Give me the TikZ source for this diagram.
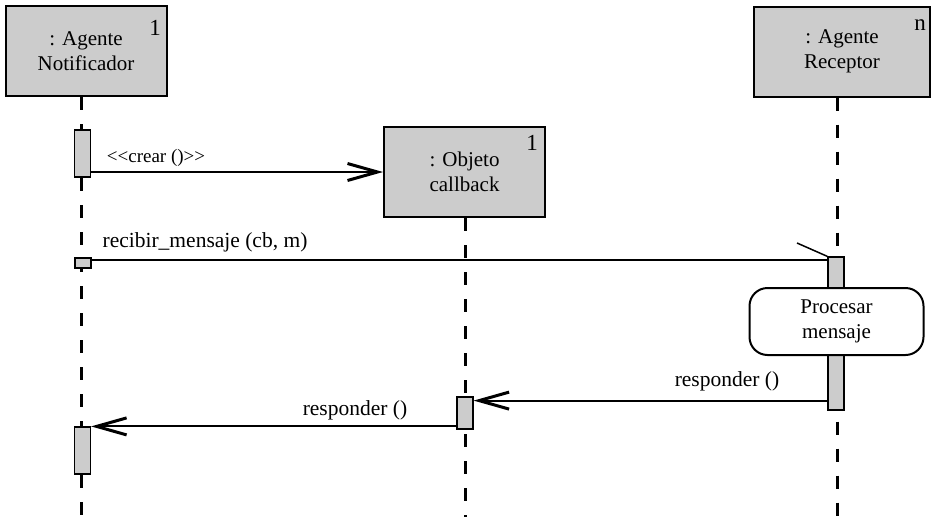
\documentclass[tikz,border=0pt]{standalone}
\usepackage{fontspec}
\setmainfont[Ligatures=NoCommon]{Liberation Serif}
\usetikzlibrary{arrows.meta,calc}
\definecolor{boxgray}{HTML}{CCCCCC}
\tikzset{
  objbox/.style={draw, line width=2pt, fill=boxgray, minimum width=161pt, minimum height=90pt, align=center, inner sep=0pt, font=\fontsize{21}{25}\selectfont},
  actbox/.style={draw, line width=1.2pt, fill=boxgray, minimum width=16pt, inner sep=0pt},
  lifeline/.style={line width=3pt, dash pattern=on 13pt off 14pt},
  msg/.style={line width=2pt, -{Straight Barb[length=30pt,width=17pt,line width=3pt]}},
  lbl/.style={font=\fontsize{21.5}{24}\selectfont, inner sep=0pt},
  mult/.style={font=\fontsize{23}{24}\selectfont, inner sep=0pt}
}
\begin{document}
\begin{tikzpicture}[x=1pt,y=-1pt]
\useasboundingbox (0,0) rectangle (931,517);
% objects
\node[objbox] (notif) at (86,51) {: Agente\\Notificador};
\node[objbox] (obj) at (464.5,172) {: Objeto\\callback};
\node[objbox, minimum width=176pt] (recep) at (842,51.5) {: Agente\\Receptor};
\node[mult] (m1) at (155,28) {1};
\node[mult] (m2) at (532,143) {1};
\node[mult] (m3) at (920,25) {n};
% lifeline ends
\coordinate (ln) at (81,517);
\coordinate (lo) at (465,517);
\coordinate (lr) at (837,517);
\draw[lifeline] (notif.south -| ln) -- (ln);
\draw[lifeline] (obj.south -| lo) -- (lo);
\draw[lifeline] (recep.south -| lr) -- (lr);
% activations
\node[actbox, minimum height=47pt] (a1) at (82.5,153.5) {};
\node[actbox, minimum height=10pt] (a2) at (83,263) {};
\node[actbox, minimum height=153pt] (ar) at (836,333.5) {};
\node[actbox, minimum height=32pt] (ao) at (465,413) {};
\node[actbox, minimum height=47pt] (a3) at (82.5,450.5) {};
% process box
\node[draw, line width=2pt, fill=white, rounded corners=18pt, minimum width=174pt, minimum height=67pt, align=center, font=\fontsize{21}{25}\selectfont] (proc) at (836.5,321.5) {Procesar\\mensaje};
% messages
\draw[msg] (obj.west -| a1.east) -- (obj.west);
\node[lbl, font=\fontsize{19}{20}\selectfont] (lcrear) at (156,158) {<{}<crear ()>{}>};
\coordinate (rin) at ($(a2.east -| ar.west)+(0,-3)$);
\draw[line width=2pt] ($(a2.east)+(0,-3)$) -- (rin);
\coordinate (half) at (797,243);
\draw[line width=1.5pt] (half) -- (ar.north west);
\node[lbl] (lrec) at (205,242) {recibir\_mensaje (cb, m)};
\coordinate (rs) at ($(ar.south west)+(0,-10)$);
\draw[msg] (rs) -- (rs -| ao.east);
\node[lbl] (lresp1) at (727,381) {responder ()};
\draw[msg] (a3.north east -| ao.west) -- (a3.north east);
\node[lbl] (lresp2) at (355,410) {responder ()};
\end{tikzpicture}
\end{document}
